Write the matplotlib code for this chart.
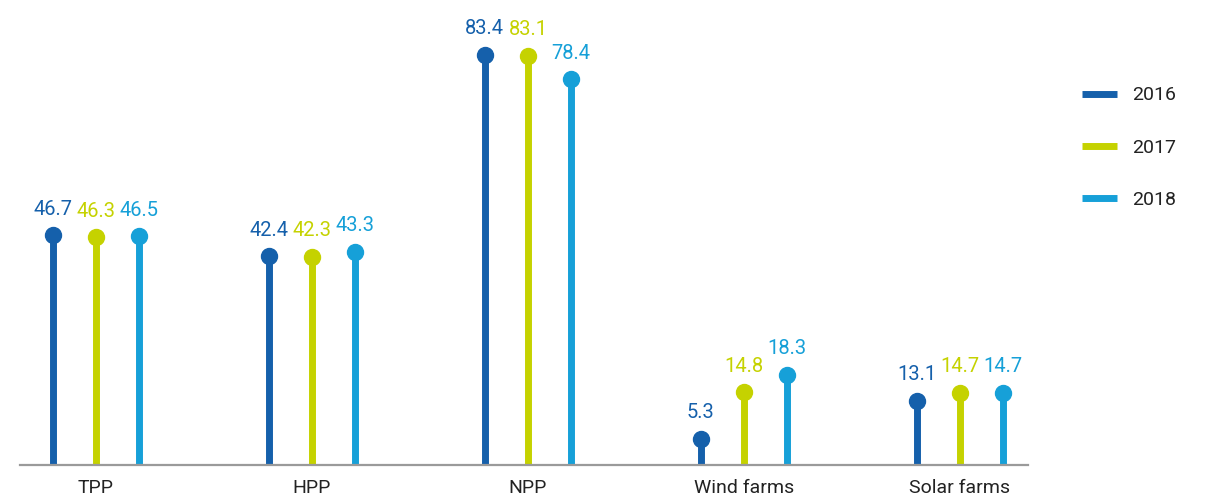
import matplotlib
import numpy as np

matplotlib.use("Agg")
import matplotlib.pyplot as plt
from matplotlib.lines import Line2D

plt.rcParams["font.family"] = ["Roboto", "DejaVu Sans"]

# 各類電站的數值（2016–2018）
categories = ["TPP", "HPP", "NPP", "Wind farms", "Solar farms"]
years = ["2016", "2017", "2018"]
values_2016 = [46.7, 42.4, 83.4, 5.3, 13.1]
values_2017 = [46.3, 42.3, 83.1, 14.8, 14.7]
values_2018 = [46.5, 43.3, 78.4, 18.3, 14.7]

COLORS = ["#1560ab", "#c5d200", "#16a0d8"]
OFFSET = 0.2

fig = plt.figure(figsize=(12.08, 4.97), dpi=100)
ax = fig.add_axes([20 / 1208, 32 / 497, 1008 / 1208, 465 / 497])

x = np.arange(len(categories))
series = [values_2016, values_2017, values_2018]
for i, (vals, color) in enumerate(zip(series, COLORS)):
    xs = x + (i - 1) * OFFSET
    ax.vlines(xs, 0, vals, color=color, linewidth=5)
    ax.plot(xs, vals, "o", color=color, markersize=11.5, zorder=3)
    for xi, v in zip(xs, vals):
        ax.annotate(f"{v:.1f}", (xi, v), xytext=(0, 12), textcoords="offset points",
                    ha="center", va="bottom", color=color, fontsize=14.5)

ax.set_xlim(-0.352, 4.315)
ax.set_ylim(0, 94.5)
for side in ["top", "right", "left"]:
    ax.spines[side].set_visible(False)
ax.spines["bottom"].set_color("#9a9a9a")
ax.spines["bottom"].set_linewidth(1.6)
ax.set_yticks([])
ax.set_xticks(x)
ax.set_xticklabels(categories, fontsize=14, color="#222222")
ax.tick_params(axis="x", length=0, pad=10)

handles = [Line2D([], [], color=c, linewidth=5, solid_capstyle="butt") for c in COLORS]
fig.legend(handles, years, loc="upper left", bbox_to_anchor=(1064 / 1208, 1 - 69 / 497),
           frameon=False, fontsize=14, handlelength=1.85, handletextpad=0.75,
           labelspacing=1.75, labelcolor="#222222")

fig.savefig("out.png", dpi=100)
